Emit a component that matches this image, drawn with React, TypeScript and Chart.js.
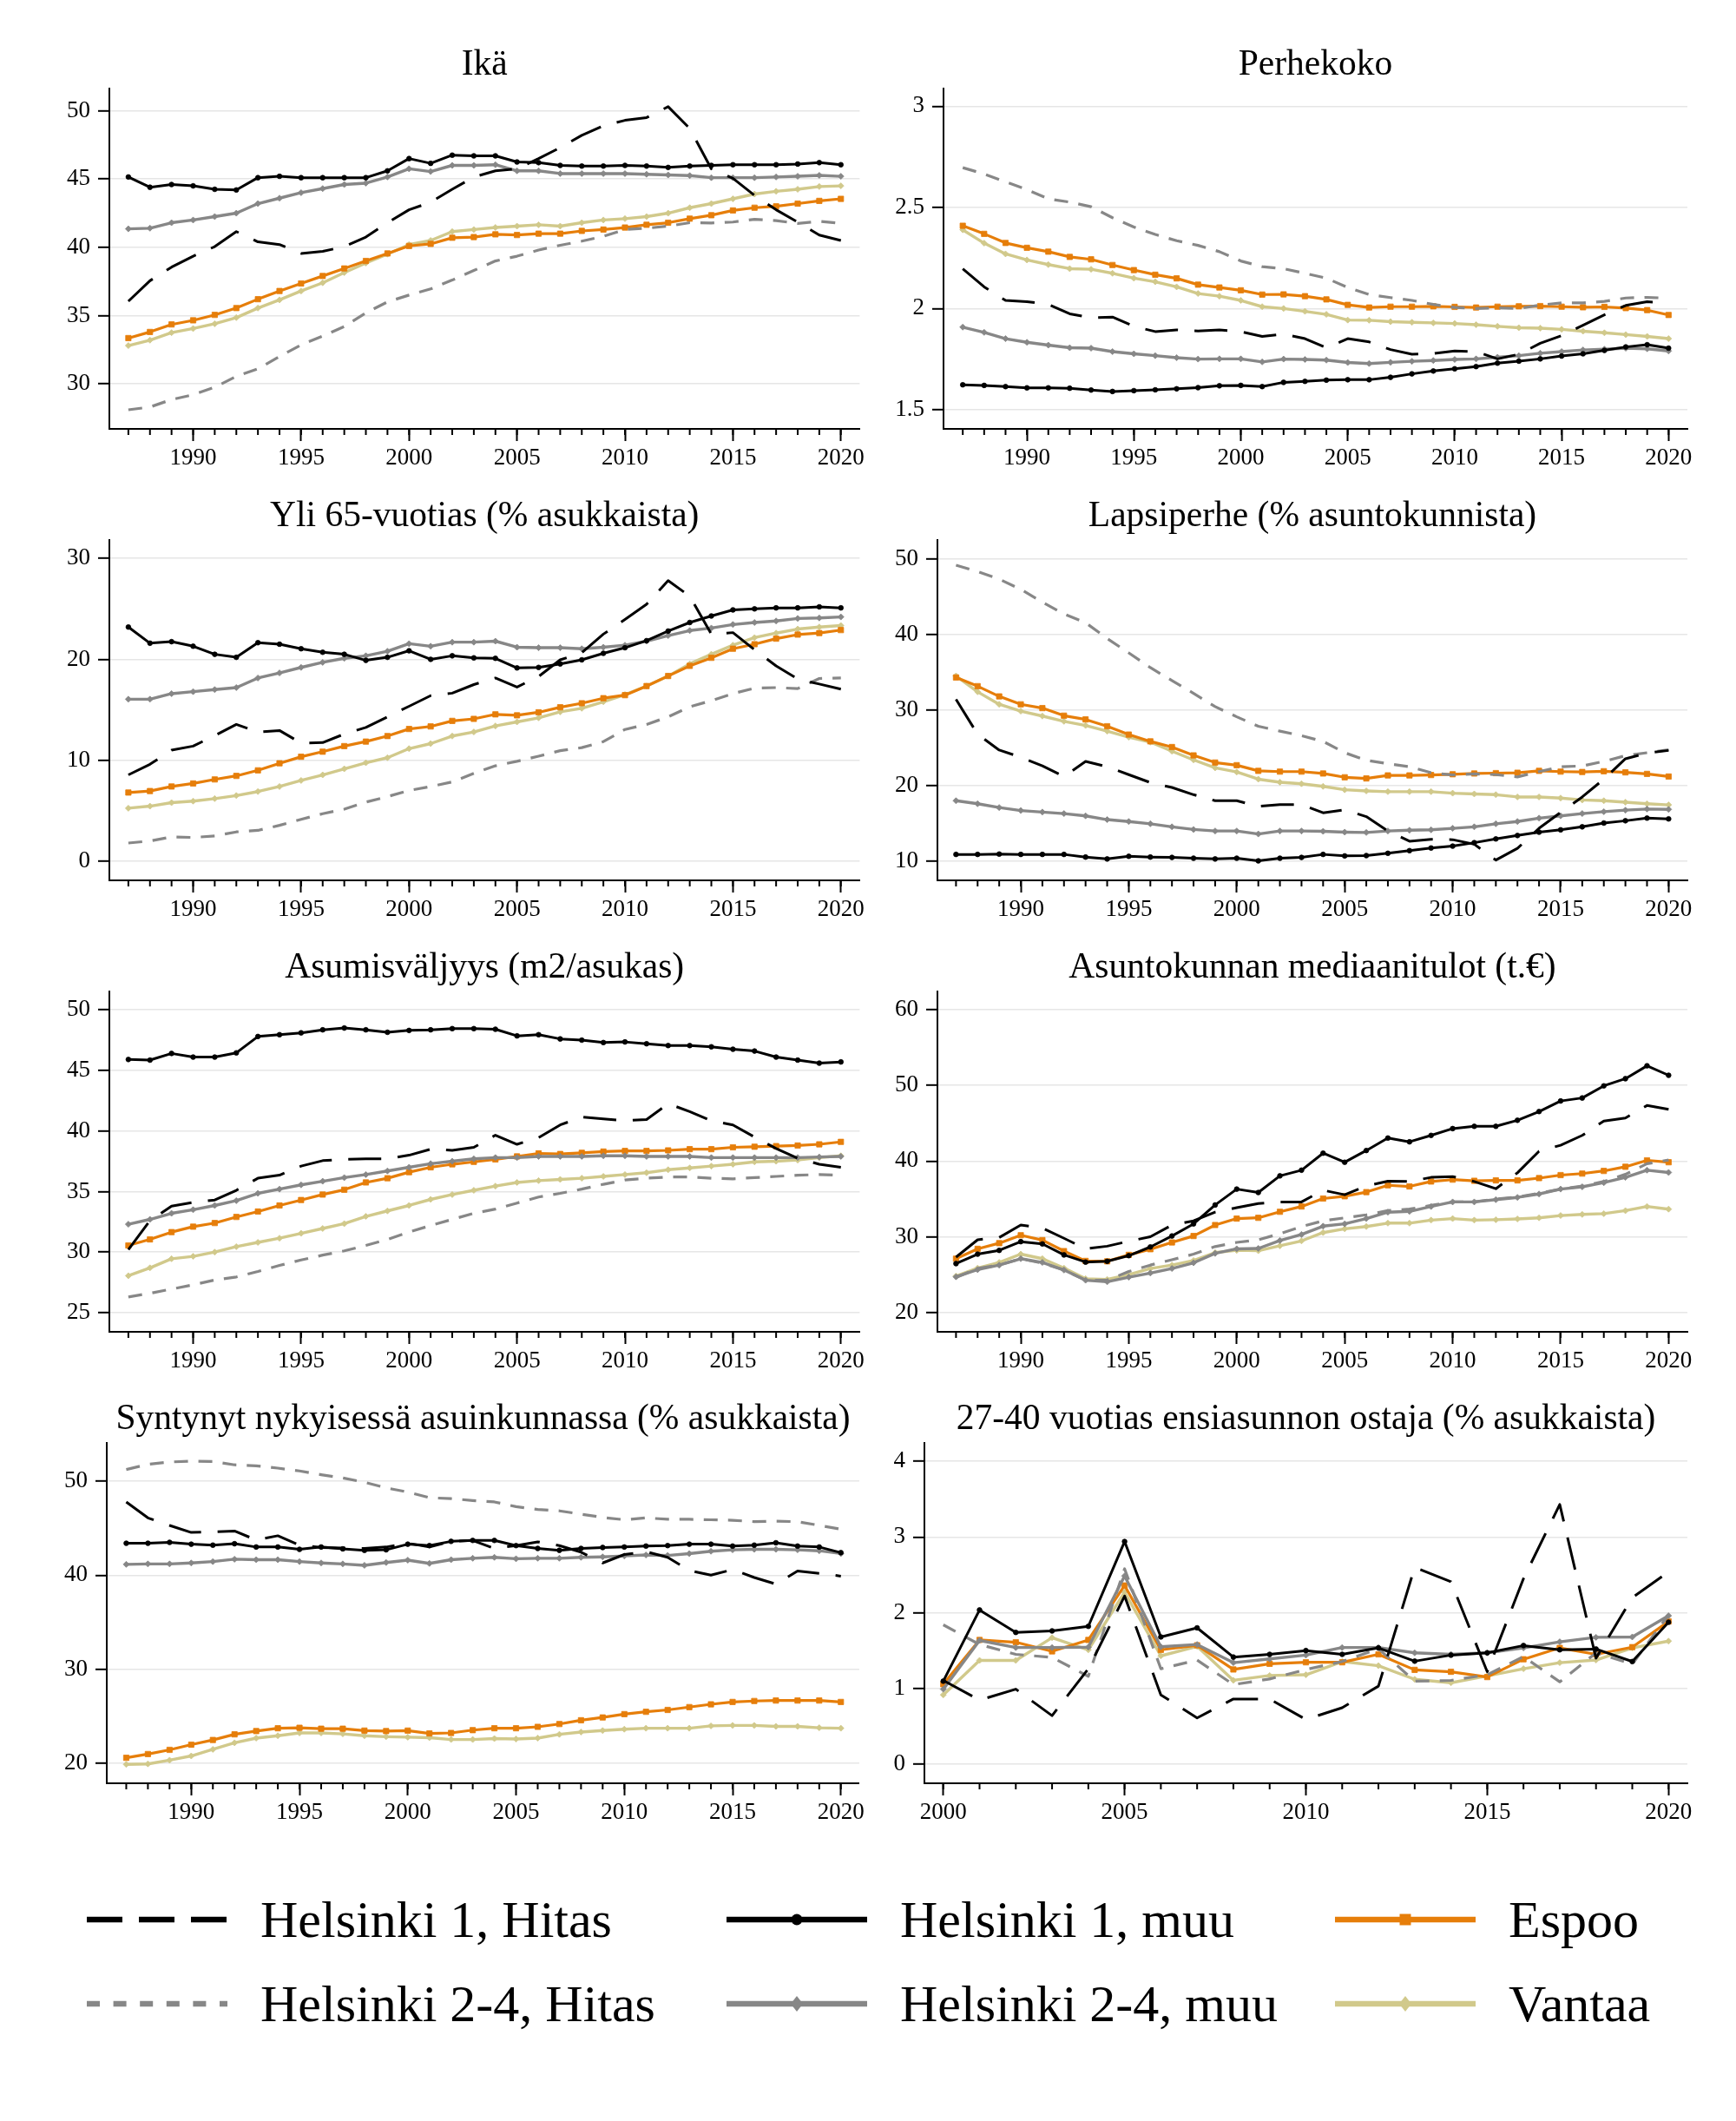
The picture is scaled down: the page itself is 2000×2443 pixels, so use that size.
import React, { useEffect, useRef } from 'react';
import { Chart, registerables } from 'chart.js';

Chart.register(...registerables);

// ---------- categories ----------
const YEARS = [1987, 1988, 1989, 1990, 1991, 1992, 1993, 1994, 1995, 1996, 1997, 1998, 1999, 2000, 2001, 2002, 2003, 2004, 2005, 2006, 2007, 2008, 2009, 2010, 2011, 2012, 2013, 2014, 2015, 2016, 2017, 2018, 2019, 2020];
const YEARS_2000 = [2000, 2001, 2002, 2003, 2004, 2005, 2006, 2007, 2008, 2009, 2010, 2011, 2012, 2013, 2014, 2015, 2016, 2017, 2018, 2019, 2020];
const X_TICKS = [1990, 1995, 2000, 2005, 2010, 2015, 2020];
const X_TICKS_2000 = [2000, 2005, 2010, 2015, 2020];
const SERIES_NAMES = ['Helsinki 1, Hitas', 'Helsinki 1, muu', 'Espoo', 'Helsinki 2-4, Hitas', 'Helsinki 2-4, muu', 'Vantaa'];

// ---------- Ikä ----------
const IKA_TICKS = [30, 35, 40, 45, 50];
const IKA_H1_HITAS = [36.05, 37.55, 38.55, 39.35, 40.05, 41.15, 40.4, 40.2, 39.55, 39.7, 40.05, 40.75, 41.8, 42.75, 43.3, 44.25, 45.15, 45.6, 45.75, 46.5, 47.3, 48.2, 48.9, 49.3, 49.5, 50.3, 48.7, 45.75, 45.05, 43.8, 42.75, 41.85, 40.9, 40.5];
const IKA_H1_MUU = [45.15, 44.4, 44.6, 44.5, 44.25, 44.2, 45.1, 45.2, 45.1, 45.1, 45.1, 45.1, 45.6, 46.5, 46.15, 46.75, 46.7, 46.7, 46.25, 46.2, 46.0, 45.95, 45.95, 46.0, 45.95, 45.85, 45.95, 46.0, 46.05, 46.05, 46.05, 46.1, 46.2, 46.05];
const IKA_ESPOO = [33.35, 33.8, 34.35, 34.65, 35.05, 35.55, 36.2, 36.8, 37.35, 37.9, 38.45, 39.0, 39.55, 40.1, 40.25, 40.7, 40.75, 40.95, 40.9, 41.0, 41.0, 41.2, 41.3, 41.45, 41.65, 41.8, 42.1, 42.35, 42.7, 42.9, 43.0, 43.2, 43.4, 43.55];
const IKA_H24_HITAS = [28.1, 28.3, 28.85, 29.2, 29.75, 30.55, 31.1, 32.0, 32.85, 33.5, 34.2, 35.2, 36.0, 36.5, 36.95, 37.6, 38.3, 39.0, 39.35, 39.8, 40.15, 40.45, 40.8, 41.3, 41.4, 41.55, 41.8, 41.78, 41.85, 42.05, 41.95, 41.75, 41.9, 41.75];
const IKA_H24_MUU = [41.35, 41.4, 41.8, 42.0, 42.25, 42.5, 43.2, 43.6, 44.0, 44.3, 44.6, 44.7, 45.15, 45.75, 45.55, 46.0, 46.0, 46.05, 45.6, 45.6, 45.4, 45.4, 45.4, 45.4, 45.35, 45.3, 45.25, 45.1, 45.1, 45.1, 45.15, 45.2, 45.27, 45.2];
const IKA_VANTAA = [32.8, 33.2, 33.75, 34.05, 34.4, 34.85, 35.55, 36.15, 36.8, 37.4, 38.15, 38.85, 39.5, 40.2, 40.5, 41.15, 41.3, 41.45, 41.55, 41.65, 41.55, 41.8, 42.0, 42.1, 42.25, 42.5, 42.9, 43.2, 43.55, 43.9, 44.1, 44.25, 44.45, 44.5];

// ---------- Perhekoko ----------
const PERHE_TICKS = [1.5, 2, 2.5, 3];
const PERHE_H1_HITAS = [2.196, 2.107, 2.04, 2.034, 2.02, 1.974, 1.954, 1.958, 1.912, 1.886, 1.894, 1.889, 1.894, 1.886, 1.862, 1.874, 1.851, 1.806, 1.851, 1.835, 1.797, 1.774, 1.777, 1.79, 1.787, 1.751, 1.774, 1.828, 1.866, 1.917, 1.969, 2.015, 2.034, 2.026];
const PERHE_H1_MUU = [1.623, 1.62, 1.614, 1.608, 1.608, 1.606, 1.597, 1.59, 1.594, 1.598, 1.603, 1.609, 1.618, 1.62, 1.614, 1.635, 1.64, 1.646, 1.648, 1.648, 1.66, 1.677, 1.691, 1.702, 1.713, 1.73, 1.74, 1.751, 1.765, 1.776, 1.793, 1.81, 1.821, 1.804];
const PERHE_ESPOO = [2.409, 2.369, 2.324, 2.3, 2.281, 2.255, 2.243, 2.215, 2.19, 2.167, 2.149, 2.118, 2.104, 2.09, 2.069, 2.07, 2.061, 2.045, 2.018, 2.005, 2.009, 2.009, 2.011, 2.008, 2.005, 2.009, 2.011, 2.012, 2.009, 2.006, 2.008, 2.002, 1.992, 1.968];
const PERHE_H24_HITAS = [2.696, 2.665, 2.626, 2.588, 2.542, 2.526, 2.503, 2.449, 2.403, 2.366, 2.335, 2.312, 2.281, 2.235, 2.207, 2.197, 2.174, 2.15, 2.104, 2.069, 2.054, 2.04, 2.02, 2.005, 2.0, 2.003, 2.0, 2.017, 2.028, 2.028, 2.035, 2.052, 2.055, 2.051];
const PERHE_H24_MUU = [1.908, 1.882, 1.851, 1.833, 1.819, 1.806, 1.804, 1.787, 1.776, 1.767, 1.757, 1.75, 1.751, 1.751, 1.736, 1.75, 1.748, 1.745, 1.733, 1.728, 1.734, 1.739, 1.743, 1.748, 1.751, 1.759, 1.767, 1.779, 1.787, 1.795, 1.799, 1.804, 1.801, 1.79];
const PERHE_VANTAA = [2.389, 2.323, 2.27, 2.24, 2.217, 2.197, 2.194, 2.174, 2.15, 2.132, 2.107, 2.074, 2.061, 2.04, 2.009, 2.0, 1.986, 1.971, 1.943, 1.942, 1.935, 1.932, 1.929, 1.926, 1.92, 1.912, 1.905, 1.903, 1.897, 1.888, 1.88, 1.871, 1.862, 1.851];

// ---------- Yli 65-vuotias ----------
const YLI65_TICKS = [0, 10, 20, 30];
const YLI65_H1_HITAS = [8.55, 9.6, 11.0, 11.4, 12.45, 13.55, 12.8, 12.95, 11.7, 11.75, 12.6, 13.25, 14.3, 15.35, 16.4, 16.65, 17.5, 18.15, 17.25, 18.3, 19.95, 20.65, 22.5, 23.95, 25.45, 27.8, 26.25, 22.5, 22.65, 20.95, 19.35, 18.05, 17.55, 17.05];
const YLI65_H1_MUU = [23.2, 21.6, 21.75, 21.3, 20.5, 20.2, 21.65, 21.5, 21.05, 20.7, 20.5, 19.9, 20.2, 20.85, 20.0, 20.35, 20.15, 20.1, 19.15, 19.2, 19.55, 19.95, 20.6, 21.15, 21.85, 22.8, 23.65, 24.3, 24.9, 25.0, 25.1, 25.1, 25.2, 25.1];
const YLI65_ESPOO = [6.8, 6.95, 7.4, 7.7, 8.1, 8.45, 9.0, 9.7, 10.35, 10.85, 11.4, 11.85, 12.4, 13.1, 13.35, 13.9, 14.1, 14.55, 14.45, 14.75, 15.25, 15.65, 16.15, 16.45, 17.35, 18.35, 19.35, 20.15, 21.05, 21.5, 22.05, 22.45, 22.6, 22.9];
const YLI65_H24_HITAS = [1.8, 2.0, 2.4, 2.35, 2.5, 2.9, 3.05, 3.55, 4.15, 4.7, 5.15, 5.85, 6.4, 7.0, 7.4, 7.85, 8.7, 9.45, 9.9, 10.4, 10.95, 11.25, 11.85, 13.05, 13.55, 14.3, 15.3, 15.9, 16.6, 17.15, 17.2, 17.1, 18.1, 18.15];
const YLI65_H24_MUU = [16.05, 16.05, 16.6, 16.8, 17.0, 17.2, 18.15, 18.65, 19.2, 19.7, 20.1, 20.35, 20.8, 21.55, 21.3, 21.7, 21.7, 21.8, 21.2, 21.15, 21.15, 21.05, 21.2, 21.4, 21.8, 22.35, 22.85, 23.1, 23.45, 23.65, 23.8, 24.05, 24.1, 24.2];
const YLI65_VANTAA = [5.25, 5.45, 5.8, 5.95, 6.2, 6.5, 6.9, 7.4, 8.0, 8.55, 9.15, 9.75, 10.25, 11.15, 11.65, 12.4, 12.8, 13.4, 13.8, 14.2, 14.8, 15.15, 15.8, 16.5, 17.35, 18.35, 19.55, 20.5, 21.4, 22.15, 22.6, 23.0, 23.2, 23.35];

// ---------- Lapsiperhe ----------
const LAPSI_TICKS = [10, 20, 30, 40, 50];
const LAPSI_H1_HITAS = [31.4, 26.8, 24.7, 23.75, 22.6, 21.2, 23.2, 22.5, 21.45, 20.4, 19.75, 18.8, 18.0, 18.0, 17.25, 17.5, 17.5, 16.4, 16.8, 15.9, 14.0, 12.65, 12.9, 12.85, 12.25, 10.15, 11.7, 14.35, 16.45, 18.5, 20.85, 23.55, 24.3, 24.65];
const LAPSI_H1_MUU = [10.9, 10.9, 10.95, 10.9, 10.9, 10.9, 10.55, 10.3, 10.65, 10.55, 10.5, 10.4, 10.3, 10.4, 10.05, 10.4, 10.5, 10.9, 10.7, 10.75, 11.05, 11.4, 11.75, 12.0, 12.45, 12.95, 13.4, 13.85, 14.15, 14.55, 15.05, 15.35, 15.7, 15.6];
const LAPSI_ESPOO = [34.3, 33.15, 31.8, 30.75, 30.25, 29.25, 28.75, 27.85, 26.75, 25.85, 25.1, 24.0, 23.05, 22.7, 21.95, 21.85, 21.85, 21.6, 21.1, 20.95, 21.35, 21.35, 21.4, 21.5, 21.6, 21.65, 21.7, 21.95, 21.85, 21.8, 21.9, 21.75, 21.55, 21.2];
const LAPSI_H24_HITAS = [49.15, 48.3, 47.3, 45.95, 44.25, 42.7, 41.55, 39.45, 37.55, 35.6, 33.9, 32.2, 30.45, 29.1, 27.85, 27.2, 26.6, 25.85, 24.35, 23.35, 22.9, 22.5, 21.7, 21.4, 21.55, 21.45, 21.15, 21.85, 22.5, 22.6, 23.2, 23.95, 24.35, 24.75];
const LAPSI_H24_MUU = [18.0, 17.6, 17.1, 16.7, 16.5, 16.3, 16.0, 15.5, 15.25, 14.95, 14.55, 14.2, 14.0, 14.0, 13.6, 14.0, 14.0, 13.95, 13.85, 13.8, 14.0, 14.1, 14.15, 14.35, 14.55, 14.95, 15.25, 15.7, 16.0, 16.3, 16.55, 16.75, 16.9, 16.85];
const LAPSI_VANTAA = [34.5, 32.4, 30.75, 29.85, 29.2, 28.5, 27.95, 27.2, 26.4, 25.75, 24.55, 23.4, 22.35, 21.8, 20.85, 20.45, 20.25, 19.9, 19.45, 19.3, 19.2, 19.2, 19.2, 19.0, 18.9, 18.8, 18.5, 18.5, 18.35, 18.1, 18.0, 17.8, 17.6, 17.45];

// ---------- Asumisväljyys ----------
const ASUM_TICKS = [25, 30, 35, 40, 45, 50];
const ASUM_H1_HITAS = [30.2, 32.6, 33.8, 34.1, 34.3, 35.1, 36.1, 36.35, 37.1, 37.55, 37.65, 37.7, 37.7, 38.0, 38.5, 38.4, 38.65, 39.65, 38.9, 39.45, 40.5, 41.15, 41.0, 40.85, 40.95, 42.25, 41.6, 40.85, 40.5, 39.5, 38.55, 37.75, 37.25, 37.0];
const ASUM_H1_MUU = [45.9, 45.85, 46.4, 46.1, 46.1, 46.45, 47.8, 47.95, 48.1, 48.35, 48.5, 48.35, 48.15, 48.3, 48.35, 48.45, 48.45, 48.4, 47.85, 47.95, 47.6, 47.5, 47.3, 47.35, 47.2, 47.05, 47.05, 46.95, 46.75, 46.6, 46.1, 45.85, 45.6, 45.7];
const ASUM_ESPOO = [30.55, 31.05, 31.65, 32.1, 32.4, 32.9, 33.35, 33.85, 34.3, 34.75, 35.15, 35.75, 36.1, 36.6, 37.0, 37.25, 37.45, 37.65, 37.9, 38.15, 38.1, 38.2, 38.3, 38.35, 38.35, 38.4, 38.5, 38.5, 38.65, 38.7, 38.75, 38.8, 38.9, 39.1];
const ASUM_H24_HITAS = [26.3, 26.6, 26.95, 27.3, 27.7, 27.95, 28.4, 28.9, 29.35, 29.75, 30.1, 30.55, 31.05, 31.65, 32.2, 32.7, 33.2, 33.55, 34.05, 34.55, 34.85, 35.2, 35.6, 35.95, 36.1, 36.2, 36.2, 36.1, 36.05, 36.15, 36.25, 36.35, 36.4, 36.35];
const ASUM_H24_MUU = [32.3, 32.7, 33.2, 33.5, 33.85, 34.25, 34.85, 35.2, 35.55, 35.85, 36.15, 36.4, 36.7, 37.0, 37.3, 37.5, 37.7, 37.8, 37.8, 37.9, 37.9, 37.9, 37.95, 37.95, 37.9, 37.9, 37.9, 37.8, 37.8, 37.8, 37.8, 37.8, 37.85, 37.9];
const ASUM_VANTAA = [28.05, 28.7, 29.45, 29.65, 30.0, 30.45, 30.8, 31.15, 31.55, 31.95, 32.35, 32.95, 33.4, 33.85, 34.35, 34.75, 35.1, 35.45, 35.75, 35.9, 36.0, 36.1, 36.25, 36.4, 36.55, 36.8, 36.95, 37.1, 37.25, 37.45, 37.5, 37.6, 37.8, 37.95];

// ---------- Asuntokunnan mediaanitulot ----------
const TULO_TICKS = [20, 30, 40, 50, 60];
const TULO_H1_HITAS = [27.3, 29.6, 29.9, 31.55, 31.15, 29.8, 28.4, 28.75, 29.4, 30.0, 31.55, 32.1, 33.25, 33.85, 34.4, 34.6, 34.6, 36.15, 35.55, 36.7, 37.35, 37.3, 37.85, 37.95, 37.3, 36.35, 38.45, 41.3, 42.1, 43.4, 45.3, 45.7, 47.35, 46.85];
const TULO_H1_MUU = [26.45, 27.7, 28.2, 29.35, 29.05, 27.6, 26.65, 26.75, 27.5, 28.65, 30.1, 31.7, 34.2, 36.3, 35.85, 38.05, 38.8, 41.05, 39.85, 41.4, 43.05, 42.55, 43.4, 44.3, 44.6, 44.6, 45.4, 46.55, 47.95, 48.35, 49.95, 50.9, 52.6, 51.35];
const TULO_ESPOO = [27.1, 28.4, 29.15, 30.2, 29.55, 28.1, 26.8, 26.75, 27.6, 28.35, 29.25, 30.1, 31.55, 32.4, 32.5, 33.3, 34.0, 35.05, 35.35, 35.9, 36.8, 36.65, 37.3, 37.55, 37.4, 37.45, 37.45, 37.75, 38.15, 38.35, 38.7, 39.25, 40.1, 39.85];
const TULO_H24_HITAS = [24.6, 25.8, 26.25, 27.1, 26.5, 25.6, 24.25, 24.25, 25.4, 26.25, 26.95, 27.7, 28.7, 29.25, 29.6, 30.4, 31.35, 32.1, 32.5, 32.9, 33.45, 33.65, 34.15, 34.6, 34.6, 35.0, 35.25, 35.75, 36.3, 36.7, 37.3, 38.25, 39.65, 40.15];
const TULO_H24_MUU = [24.7, 25.65, 26.25, 27.1, 26.6, 25.6, 24.25, 24.05, 24.65, 25.2, 25.8, 26.55, 27.8, 28.4, 28.45, 29.5, 30.3, 31.4, 31.7, 32.4, 33.25, 33.35, 34.0, 34.6, 34.6, 34.9, 35.2, 35.65, 36.3, 36.6, 37.15, 37.85, 38.8, 38.5];
const TULO_VANTAA = [24.8, 25.85, 26.6, 27.7, 27.1, 25.85, 24.45, 24.35, 25.0, 25.8, 26.25, 26.85, 27.9, 28.2, 28.15, 28.8, 29.45, 30.55, 31.05, 31.35, 31.8, 31.8, 32.2, 32.4, 32.2, 32.25, 32.35, 32.5, 32.8, 32.95, 33.05, 33.45, 34.0, 33.65];

// ---------- Syntynyt nykyisessä asuinkunnassa ----------
const SYNT_TICKS = [20, 30, 40, 50];
const SYNT_H1_HITAS = [47.8, 46.1, 45.3, 44.55, 44.6, 44.7, 43.75, 44.2, 43.2, 42.95, 42.9, 42.85, 43.0, 43.4, 43.0, 43.6, 43.7, 42.85, 43.15, 43.55, 43.15, 42.45, 41.3, 42.2, 42.5, 41.9, 40.5, 40.0, 40.6, 39.75, 39.05, 40.45, 40.2, 39.9];
const SYNT_H1_MUU = [43.4, 43.4, 43.5, 43.3, 43.2, 43.35, 43.0, 43.0, 42.75, 43.0, 42.8, 42.65, 42.7, 43.3, 43.15, 43.6, 43.7, 43.7, 43.15, 42.85, 42.65, 42.85, 42.95, 43.0, 43.1, 43.15, 43.3, 43.3, 43.1, 43.2, 43.45, 43.1, 43.0, 42.4];
const SYNT_ESPOO = [20.55, 20.95, 21.4, 21.95, 22.45, 23.05, 23.4, 23.7, 23.75, 23.65, 23.65, 23.45, 23.4, 23.45, 23.15, 23.2, 23.5, 23.7, 23.7, 23.85, 24.15, 24.55, 24.85, 25.2, 25.45, 25.65, 25.95, 26.25, 26.5, 26.6, 26.65, 26.65, 26.65, 26.5];
const SYNT_H24_HITAS = [51.25, 51.8, 52.05, 52.15, 52.1, 51.75, 51.65, 51.4, 51.1, 50.7, 50.35, 49.9, 49.3, 48.85, 48.25, 48.15, 47.95, 47.8, 47.3, 47.0, 46.85, 46.5, 46.15, 45.9, 46.1, 45.95, 45.95, 45.9, 45.85, 45.7, 45.75, 45.7, 45.3, 44.9];
const SYNT_H24_MUU = [41.15, 41.2, 41.2, 41.3, 41.45, 41.7, 41.65, 41.65, 41.45, 41.3, 41.2, 41.05, 41.35, 41.6, 41.25, 41.65, 41.8, 41.9, 41.75, 41.8, 41.8, 41.9, 41.95, 42.05, 42.15, 42.1, 42.3, 42.55, 42.7, 42.75, 42.75, 42.7, 42.6, 42.3];
const SYNT_VANTAA = [19.85, 19.9, 20.3, 20.75, 21.45, 22.15, 22.65, 22.9, 23.2, 23.2, 23.1, 22.9, 22.8, 22.75, 22.7, 22.5, 22.5, 22.6, 22.55, 22.65, 23.05, 23.3, 23.45, 23.6, 23.7, 23.7, 23.7, 23.95, 24.0, 24.0, 23.9, 23.9, 23.75, 23.7];

// ---------- 27-40 vuotias ensiasunnon ostaja ----------
const ENSI_TICKS = [0, 1, 2, 3, 4];
const ENSI_H1_HITAS = [1.106, 0.846, 0.99, 0.64, 1.26, 2.22, 0.915, 0.61, 0.86, 0.86, 0.59, 0.745, 1.03, 2.6, 2.41, 1.22, 2.45, 3.43, 1.4, 2.2, 2.54];
const ENSI_H1_MUU = [1.096, 2.036, 1.74, 1.76, 1.82, 2.94, 1.68, 1.8, 1.414, 1.45, 1.5, 1.45, 1.535, 1.36, 1.44, 1.47, 1.566, 1.51, 1.52, 1.355, 1.875];
const ENSI_ESPOO = [1.056, 1.64, 1.61, 1.49, 1.64, 2.36, 1.51, 1.57, 1.25, 1.325, 1.345, 1.345, 1.45, 1.245, 1.22, 1.15, 1.385, 1.535, 1.45, 1.545, 1.885];
const ENSI_H24_HITAS = [1.84, 1.58, 1.45, 1.41, 1.16, 2.58, 1.26, 1.375, 1.05, 1.125, 1.25, 1.355, 1.525, 1.095, 1.106, 1.18, 1.42, 1.087, 1.47, 1.32, 1.97];
const ENSI_H24_MUU = [0.99, 1.634, 1.54, 1.54, 1.545, 2.485, 1.55, 1.58, 1.34, 1.39, 1.44, 1.54, 1.54, 1.47, 1.45, 1.47, 1.535, 1.615, 1.675, 1.68, 1.96];
const ENSI_VANTAA = [0.915, 1.37, 1.37, 1.67, 1.51, 2.27, 1.43, 1.555, 1.107, 1.17, 1.18, 1.355, 1.3, 1.12, 1.075, 1.165, 1.26, 1.34, 1.375, 1.535, 1.625];

// ---------- styles & layout ----------
const FONT = '"Liberation Serif", "Times New Roman", serif';
const ORANGE = '#E67E0A';
const KHAKI = '#D1C98B';
const GRAY = '#878787';

type SeriesStyle = { color: string; width: number; dash?: number[]; point?: string; radius?: number; order: number };
const STYLES: SeriesStyle[] = [
  { color: '#000000', width: 3, dash: [38, 19], order: 0 },
  { color: '#000000', width: 3, point: 'circle', radius: 2.8, order: 1 },
  { color: ORANGE, width: 3.2, point: 'rect', radius: 4.4, order: 4 },
  { color: GRAY, width: 3.2, dash: [16, 12], order: 2 },
  { color: GRAY, width: 3.4, point: 'rectRot', radius: 3.5, order: 3 },
  { color: KHAKI, width: 3.4, point: 'rectRot', radius: 3.5, order: 5 },
];

type PanelSpec = {
  title: string; col: number; row: number; years: number[]; xTicks: number[];
  xMin: number; xMax: number; yTicks: number[]; yMin: number; yMax: number;
  axisX: number; series: number[][];
};

const PANELS: PanelSpec[] = [
  { title: 'Ikä', col: 0, row: 0, years: YEARS, xTicks: X_TICKS, xMin: 1986.12, xMax: 2020.87, yTicks: IKA_TICKS, yMin: 26.7, yMax: 51.64, axisX: 126,
    series: [IKA_H1_HITAS, IKA_H1_MUU, IKA_ESPOO, IKA_H24_HITAS, IKA_H24_MUU, IKA_VANTAA] },
  { title: 'Perhekoko', col: 1, row: 0, years: YEARS, xTicks: X_TICKS, xMin: 1986.1, xMax: 2020.88, yTicks: PERHE_TICKS, yMin: 1.405, yMax: 3.088, axisX: 87,
    series: [PERHE_H1_HITAS, PERHE_H1_MUU, PERHE_ESPOO, PERHE_H24_HITAS, PERHE_H24_MUU, PERHE_VANTAA] },
  { title: 'Yli 65-vuotias (% asukkaista)', col: 0, row: 1, years: YEARS, xTicks: X_TICKS, xMin: 1986.12, xMax: 2020.87, yTicks: YLI65_TICKS, yMin: -1.9, yMax: 31.84, axisX: 126,
    series: [YLI65_H1_HITAS, YLI65_H1_MUU, YLI65_ESPOO, YLI65_H24_HITAS, YLI65_H24_MUU, YLI65_VANTAA] },
  { title: 'Lapsiperhe (% asuntokunnista)', col: 1, row: 1, years: YEARS, xTicks: X_TICKS, xMin: 1986.14, xMax: 2020.87, yTicks: LAPSI_TICKS, yMin: 7.47, yMax: 52.5, axisX: 80,
    series: [LAPSI_H1_HITAS, LAPSI_H1_MUU, LAPSI_ESPOO, LAPSI_H24_HITAS, LAPSI_H24_MUU, LAPSI_VANTAA] },
  { title: 'Asumisväljyys (m2/asukas)', col: 0, row: 2, years: YEARS, xTicks: X_TICKS, xMin: 1986.12, xMax: 2020.87, yTicks: ASUM_TICKS, yMin: 23.42, yMax: 51.53, axisX: 126,
    series: [ASUM_H1_HITAS, ASUM_H1_MUU, ASUM_ESPOO, ASUM_H24_HITAS, ASUM_H24_MUU, ASUM_VANTAA] },
  { title: 'Asuntokunnan mediaanitulot (t.€)', col: 1, row: 2, years: YEARS, xTicks: X_TICKS, xMin: 1986.14, xMax: 2020.87, yTicks: TULO_TICKS, yMin: 17.43, yMax: 62.45, axisX: 80,
    series: [TULO_H1_HITAS, TULO_H1_MUU, TULO_ESPOO, TULO_H24_HITAS, TULO_H24_MUU, TULO_VANTAA] },
  { title: 'Syntynyt nykyisessä asuinkunnassa (% asukkaista)', col: 0, row: 3, years: YEARS, xTicks: X_TICKS, xMin: 1986.1, xMax: 2020.85, yTicks: SYNT_TICKS, yMin: 17.84, yMax: 54.1, axisX: 123,
    series: [SYNT_H1_HITAS, SYNT_H1_MUU, SYNT_ESPOO, SYNT_H24_HITAS, SYNT_H24_MUU, SYNT_VANTAA] },
  { title: '27-40 vuotias ensiasunnon ostaja (% asukkaista)', col: 1, row: 3, years: YEARS_2000, xTicks: X_TICKS_2000, xMin: 1999.48, xMax: 2020.52, yTicks: ENSI_TICKS, yMin: -0.253, yMax: 4.245, axisX: 65,
    series: [ENSI_H1_HITAS, ENSI_H1_MUU, ENSI_ESPOO, ENSI_H24_HITAS, ENSI_H24_MUU, ENSI_VANTAA] },
];

const PANEL_W = 1000;
const ROW_H = 520;
const CANVAS_H = 560;

const minorTicksPlugin = {
  id: 'minorTicks',
  afterDraw(chart: any, _args: any, opts: any) {
    const xs = chart.scales.x;
    const ctx = chart.ctx;
    ctx.save();
    ctx.strokeStyle = '#000';
    ctx.lineWidth = 2;
    for (const v of opts.values || []) {
      const px = xs.getPixelForValue(v);
      ctx.beginPath();
      ctx.moveTo(px, xs.top);
      ctx.lineTo(px, xs.top + 7);
      ctx.stroke();
    }
    ctx.restore();
  },
};

function Panel({ spec }: { spec: PanelSpec }) {
  const ref = useRef<HTMLCanvasElement | null>(null);
  useEffect(() => {
    if (!ref.current) return;
    const datasets = spec.series.map((vals, i) => {
      const st = STYLES[i];
      return {
        label: SERIES_NAMES[i],
        data: spec.years.map((x, j) => ({ x, y: vals[j] })),
        borderColor: st.color,
        backgroundColor: st.color,
        borderWidth: st.width,
        borderDash: st.dash || [],
        borderJoinStyle: 'round' as const,
        borderCapStyle: 'butt' as const,
        pointStyle: (st.point || 'circle') as any,
        pointRadius: st.point ? st.radius : 0,
        pointBorderWidth: 0.8,
        pointBorderColor: st.color,
        pointBackgroundColor: st.color,
        tension: 0,
        order: st.order,
      };
    });
    const tickFont = { family: FONT, size: 27 };
    const chart = new Chart(ref.current, {
      type: 'line',
      data: { datasets },
      plugins: [minorTicksPlugin],
      options: {
        animation: false,
        responsive: false,
        devicePixelRatio: 1,
        events: [],
        layout: { padding: { left: 0, right: spec.col === 0 ? 9 : 56, top: 0, bottom: 0 } },
        plugins: {
          legend: { display: false },
          tooltip: { enabled: false },
          title: {
            display: true,
            text: spec.title,
            fullSize: false,
            color: '#000',
            font: { family: FONT, size: 41.5, weight: 'normal', lineHeight: 1.2 },
            padding: { top: 50, bottom: 2 },
          },
          minorTicks: { values: spec.years },
        } as any,
        scales: {
          x: {
            type: 'linear',
            min: spec.xMin,
            max: spec.xMax,
            afterBuildTicks: (s: any) => { s.ticks = spec.xTicks.map((v) => ({ value: v })); },
            afterFit: (s: any) => { s.height = CANVAS_H - 494; },
            ticks: { font: tickFont, color: '#000', padding: 4, maxRotation: 0, autoSkip: false, callback: (v: any) => String(v) },
            grid: { drawOnChartArea: false, drawTicks: true, tickLength: 14, tickWidth: 2, tickColor: '#000' },
            border: { display: true, color: '#000', width: 2 },
          },
          y: {
            type: 'linear',
            min: spec.yMin,
            max: spec.yMax,
            afterBuildTicks: (s: any) => { s.ticks = spec.yTicks.map((v) => ({ value: v })); },
            afterFit: (s: any) => { s.width = spec.axisX; },
            ticks: { font: tickFont, color: '#000', padding: 9, autoSkip: false, callback: (v: any) => String(v) },
            grid: { drawOnChartArea: true, color: '#e6e6e6', lineWidth: 1.6, drawTicks: true, tickLength: 13, tickWidth: 2, tickColor: '#000' },
            border: { display: true, color: '#000', width: 2 },
          },
        } as any,
      } as any,
    });
    return () => chart.destroy();
  }, [spec]);
  return (
    <canvas
      ref={ref}
      width={PANEL_W}
      height={CANVAS_H}
      style={{ position: 'absolute', left: spec.col * PANEL_W, top: spec.row * ROW_H, width: PANEL_W, height: CANVAS_H }}
    />
  );
}

type LegendItem = { name: string; x: number; y: number; style: SeriesStyle; legendDash?: string };
const LEGEND_ROW_Y = [2211, 2308];
const LEGEND_COL_X = [100, 837, 1538];
const LEGEND_ITEMS: LegendItem[] = [
  { name: SERIES_NAMES[0], x: LEGEND_COL_X[0], y: LEGEND_ROW_Y[0], style: STYLES[0], legendDash: '41 19' },
  { name: SERIES_NAMES[1], x: LEGEND_COL_X[1], y: LEGEND_ROW_Y[0], style: STYLES[1] },
  { name: SERIES_NAMES[2], x: LEGEND_COL_X[2], y: LEGEND_ROW_Y[0], style: STYLES[2] },
  { name: SERIES_NAMES[3], x: LEGEND_COL_X[0], y: LEGEND_ROW_Y[1], style: STYLES[3], legendDash: '15 15.6' },
  { name: SERIES_NAMES[4], x: LEGEND_COL_X[1], y: LEGEND_ROW_Y[1], style: STYLES[4] },
  { name: SERIES_NAMES[5], x: LEGEND_COL_X[2], y: LEGEND_ROW_Y[1], style: STYLES[5] },
];

function LegendSymbol({ item }: { item: LegendItem }) {
  const w = 162;
  const h = 40;
  const cx = w / 2;
  const cy = h / 2;
  const st = item.style;
  let marker: React.ReactNode = null;
  if (st.point === 'circle') marker = <circle cx={cx} cy={cy} r={6.5} fill={st.color} />;
  if (st.point === 'rect') marker = <rect x={cx - 6.5} y={cy - 6.5} width={13} height={13} fill={st.color} />;
  if (st.point === 'rectRot') marker = <polygon points={`${cx - 7},${cy} ${cx},${cy - 9} ${cx + 7},${cy} ${cx},${cy + 9}`} fill={st.color} />;
  return (
    <svg width={w} height={h} style={{ position: 'absolute', left: item.x, top: item.y - h / 2 }}>
      <line x1={0} y1={cy} x2={w} y2={cy} stroke={st.color} strokeWidth={6.5} strokeDasharray={item.legendDash} />
      {marker}
    </svg>
  );
}

const LEGEND_TEXT_OFFSET = 200;

export default function App() {
  return (
    <div style={{ position: 'absolute', left: 0, top: 0, width: 2000, height: 2443, background: '#fff', overflow: 'hidden' }}>
      {PANELS.map((p) => (
        <Panel key={p.title} spec={p} />
      ))}
      {LEGEND_ITEMS.map((it) => (
        <React.Fragment key={it.name}>
          <LegendSymbol item={it} />
          <div
            style={{
              position: 'absolute',
              left: it.x + LEGEND_TEXT_OFFSET,
              top: it.y - 40,
              height: 80,
              display: 'flex',
              alignItems: 'center',
              fontFamily: FONT,
              fontSize: 60,
              color: '#000',
              whiteSpace: 'nowrap',
              lineHeight: 1,
            }}
          >
            {it.name}
          </div>
        </React.Fragment>
      ))}
    </div>
  );
}
